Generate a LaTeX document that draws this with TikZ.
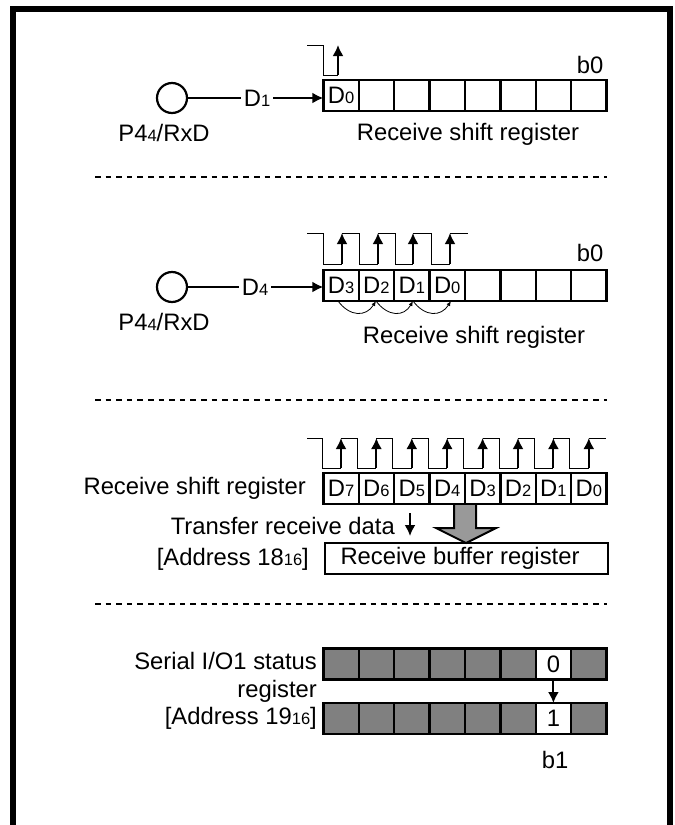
\documentclass[tikz,border=0pt]{standalone}
\usepackage{fontspec}
\setmainfont{Liberation Sans}
\usetikzlibrary{positioning,arrows.meta}

\newcommand{\lowidx}[1]{{\fontsize{16.5}{16.5}\selectfont #1}}
\tikzset{
  regcell/.style={draw, line width=2.4pt, minimum width=35.4pt, minimum height=31pt, inner sep=0pt, outer sep=0pt, font=\fontsize{23.8}{23.8}\selectfont},
  graycell/.style={regcell, fill=black!50},
  celltext/.style={inner sep=0pt, font=\fontsize{23.8}{23.8}\selectfont},
  label/.style={inner sep=0pt, font=\fontsize{23.8}{27.5}\selectfont},
  pincircle/.style={draw, circle, line width=2.2pt, minimum size=30pt, inner sep=0pt},
  clockline/.style={line width=1pt},
  edgearrow/.style={line width=2pt, -{Latex[length=11pt,width=11pt]}},
  shiftarrow/.style={line width=.8pt, -{Latex[length=5pt,width=4pt]}},
  sepline/.style={line width=2.2pt, dash pattern=on 5.5pt off 5.1pt}
}

\begin{document}
\begin{tikzpicture}[x=1pt,y=-1pt]
    \useasboundingbox (0,0) rectangle (675,825);

    % Outer frame
    \draw[line width=6pt] (13,825) -- (13,9) -- (669.5,9) -- (669.5,825);

    % Dividing lines
    \coordinate (s1a) at (95,177); \coordinate (s1b) at (607,177);
    \coordinate (s2a) at (95,400); \coordinate (s2b) at (607,400);
    \coordinate (s3a) at (95,604); \coordinate (s3b) at (607,604);
    \draw[sepline] (s1a) -- (s1b);
    \draw[sepline] (s2a) -- (s2b);
    \draw[sepline] (s3a) -- (s3b);

    % First stage
    \foreach \i in {0,...,7}
      \node[regcell] (a\i) at (341+35.4*\i,95.5) {};
    \node[celltext] at (a0) {D\lowidx{0}};
    \node[pincircle] (pina) at (172,98) {};
    \node[label, inner sep=3pt] (da) at (257,98) {D\lowidx{1}};
    \node[label] (pinlabela) at (164,133) {P4\lowidx{4}/RxD};
    \node[label] (b0a) at (590,65) {b0};
    \node[label] (namea) at (468,134) {Receive shift register};
    \draw[line width=2pt] (pina) -- (da);
    \draw[edgearrow] (da) -- (da -| a0.west);
    \coordinate (clkb) at (338,75);
    \coordinate (tipa) at (338,45);
    \draw[clockline] (307,45) -- (323,45) -- (323,75) -- (clkb);
    \draw[edgearrow] (clkb) -- (tipa);

    % Second stage
    \foreach \i in {0,...,7}
      \node[regcell] (c\i) at (341+35.4*\i,285.5) {};
    \foreach \i/\t in {0/3,1/2,2/1,3/0}
      \node[celltext] at (c\i) {D\lowidx{\t}};
    \node[pincircle] (pinb) at (172,287) {};
    \node[label, inner sep=3pt] (db) at (255,287) {D\lowidx{4}};
    \node[label] (pinlabelb) at (164,322) {P4\lowidx{4}/RxD};
    \node[label] (b0b) at (590,253) {b0};
    \node[label] (nameb) at (474,337) {Receive shift register};
    \draw[line width=2pt] (pinb) -- (db);
    \draw[edgearrow] (db) -- (db -| c0.west);
    \draw[clockline] (307,233) -- (323,233) -- (323,264) -- (342,264)
      (342,233) -- (359,233) -- (359,264) -- (378,264)
      (378,233) -- (395,233) -- (395,264) -- (413,264)
      (413,233) -- (431,233) -- (431,264) -- (450,264)
      (450,233) -- (468,233);
    \foreach \x in {342,378,413,450}
      \draw[edgearrow] (\x,264) -- (\x,233);
    \draw[shiftarrow] (338,301) .. controls (350,317) and (366,317) .. (376,301);
    \draw[shiftarrow] (376,301) .. controls (388,317) and (404,317) .. (413,301);
    \draw[shiftarrow] (413,301) .. controls (425,317) and (441,317) .. (451,301);

    % Third stage
    \foreach \i/\t in {0/7,1/6,2/5,3/4,4/3,5/2,6/1,7/0}
      \node[regcell] (d\i) at (341+35.4*\i,488.5) {D\lowidx{\t}};
    \draw[clockline] (307,438) -- (322,438);
    \foreach \x in {0,...,7} {
      \draw[clockline] (322+35.4*\x,438) -- (322+35.4*\x,468) -- (341+35.4*\x,468);
      \draw[clockline] (341+35.4*\x,438) -- (358+35.4*\x,438);
      \draw[edgearrow] (341+35.4*\x,468) -- (341+35.4*\x,438);
    }
    \node[label, anchor=east] (named) at (306,488) {Receive shift register};
    \node[label, anchor=east] (transfer) at (395,526) {Transfer receive data};
    \node[label, anchor=east] (addra) at (309,559) {[Address 18\lowidx{16}]};
    \node[regcell, minimum width=283pt, minimum height=31pt] (buffer) at (466.5,558.5) {};
    \node[label] (bufferlabel) at (460,558.5) {Receive buffer register};
    \coordinate (transfera) at (410,513);
    \coordinate (transferb) at (410,536);
    \draw[edgearrow] (transfera) -- (transferb);
    \filldraw[fill=black!40, line width=2pt] (454,505) -- (454,528) -- (436,528) -- (466,543) -- (496,528) -- (476,528) -- (476,505);

    % Fourth stage
    \foreach \i in {0,...,7} {
      \node[graycell] (e\i) at (341+35.4*\i,664) {};
      \node[graycell] (f\i) at (341+35.4*\i,718.5) {};
    }
    \node[regcell, fill=white] (e6) at (341+35.4*6,664) {0};
    \node[regcell, fill=white] (f6) at (341+35.4*6,718.5) {1};
    \draw[edgearrow] (e6) -- (f6);
    \node[label, align=right, anchor=east] (status) at (317,691) {Serial I/O1 status\\register\\{}[Address 19\lowidx{16}]};
    \node[label] (b1) at (555,760) {b1};

\end{tikzpicture}
\end{document}
